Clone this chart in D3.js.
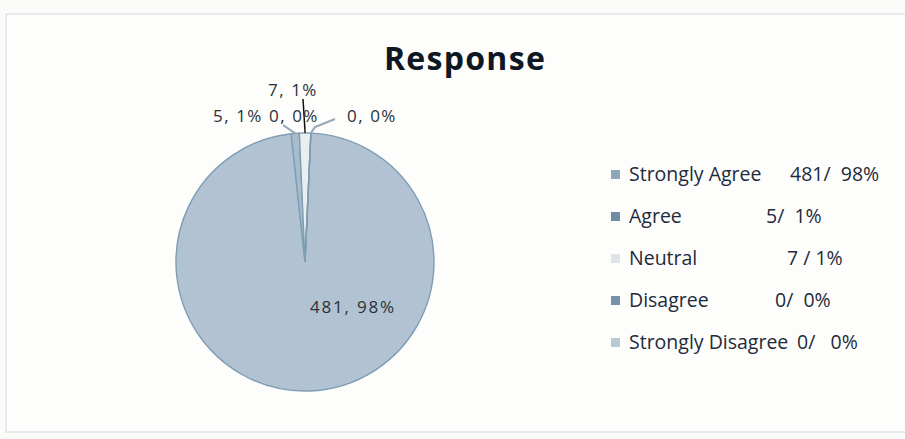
<!DOCTYPE html>
<html><head><meta charset="utf-8">
<script src="https://cdn.jsdelivr.net/npm/d3@7"></script>
<style>body{margin:0;background:#fbfbfa}svg{display:block}</style>
</head><body>
<script>
const categories = ["Strongly Agree", "Agree", "Neutral", "Disagree", "Strongly Disagree"];
const values = [481, 5, 7, 0, 0];
const percents = ["98%", "1%", "1%", "0%", "0%"];
const legendValues = ["481/  98%", "5/  1%", "7 / 1%", "0/  0%", "0/   0%"];
const title = "Response";

const W = 905, H = 439;
const svg = d3.select("body").append("svg").attr("width", W).attr("height", H);
const font = "'Open Sans', Lato, sans-serif";

// frame
svg.append("rect").attr("x", 6).attr("y", 14).attr("width", W + 10).attr("height", 418)
  .attr("fill", "#fdfdfc").attr("stroke", "#d6d8da").attr("stroke-width", 1);

svg.append("text").attr("x", 465).attr("y", 70).attr("text-anchor", "middle")
  .attr("font-family", font).attr("font-weight", 700).attr("font-size", 32)
  .attr("letter-spacing", 1.3)
  .attr("fill", "#0e1722").text(title);

const fills = ["#b1c3d2", "#a9bccb", "#e9eef1", "#9fb4c4", "#c6d3dc"];
const cx = 305, cy = 262, r = 129;
const offset = 2.6 * Math.PI / 180;
const pie = d3.pie().sort(null).value(d => d.v)
  .startAngle(offset).endAngle(offset + 2 * Math.PI);
const data = categories.map((c, i) => ({ c, v: values[i], p: percents[i] }));
const arcs = pie(data);
const arc = d3.arc().innerRadius(0).outerRadius(r);
const g = svg.append("g").attr("transform", `translate(${cx},${cy})`);
g.selectAll("path").data(arcs).join("path")
  .attr("d", arc).attr("fill", (d, i) => fills[i])
  .attr("stroke", "#7f9db3").attr("stroke-width", 1.4);

// labels
const labelFont = 17;
const pt = (a, rr) => [Math.sin(a) * rr, -Math.cos(a) * rr];
const main = arcs[0];
g.append("text").attr("x", 48).attr("y", 51).attr("text-anchor", "middle")
  .attr("font-family", font).attr("font-size", labelFont).attr("letter-spacing", 1.8)
  .attr("fill", "#2a3138")
  .text(`${main.data.v}, ${main.data.p}`);

const labelPos = [null, [-67, -140], [-12, -166], [-11, -140], [67, -140]];
const leaders = [null, [[-8, -129], [-22, -137]], [[-2, -129], [-2, -163]], null, [[5, -129], [10, -135], [30, -143]]];
const leaderCol = [null, "#93a7b5", "#111", null, "#93a7b5"];
arcs.forEach((a, i) => {
  if (i === 0) return;
  if (leaders[i]) {
    const mid = (a.startAngle + a.endAngle) / 2;
    const p0 = pt(mid, r);
    const pts = [p0].concat(leaders[i].slice(1));
    g.append("path").attr("d", d3.line()(pts)).attr("fill", "none")
      .attr("stroke", leaderCol[i]).attr("stroke-width", i === 2 ? 1.5 : 2);
  }
  g.append("text").attr("x", labelPos[i][0]).attr("y", labelPos[i][1])
    .attr("text-anchor", "middle")
    .attr("font-family", font).attr("font-size", labelFont).attr("letter-spacing", 1.5)
    .attr("fill", "#2a3138")
    .text(`${a.data.v}, ${a.data.p}`);
});

// legend
const legFills = ["#8fa6b9", "#6f8ea6", "#dfe4e8", "#7893a9", "#b9c9d2"];
const valX = [790, 766, 787, 775, 797];
const leg = svg.append("g");
categories.forEach((c, i) => {
  const y = 174 + i * 42;
  leg.append("rect").attr("x", 611).attr("y", y - 4).attr("width", 9).attr("height", 9)
    .attr("fill", legFills[i]);
  leg.append("text").attr("x", 629).attr("y", y + 7)
    .attr("font-family", font).attr("font-size", 19.5).attr("fill", "#1d2b3a")
    .text(c);
  leg.append("text").attr("x", valX[i]).attr("y", y + 7)
    .style("white-space", "pre")
    .attr("font-family", font).attr("font-size", 19.5).attr("fill", "#1d2b3a")
    .text(legendValues[i]);
});
</script>
</body></html>
